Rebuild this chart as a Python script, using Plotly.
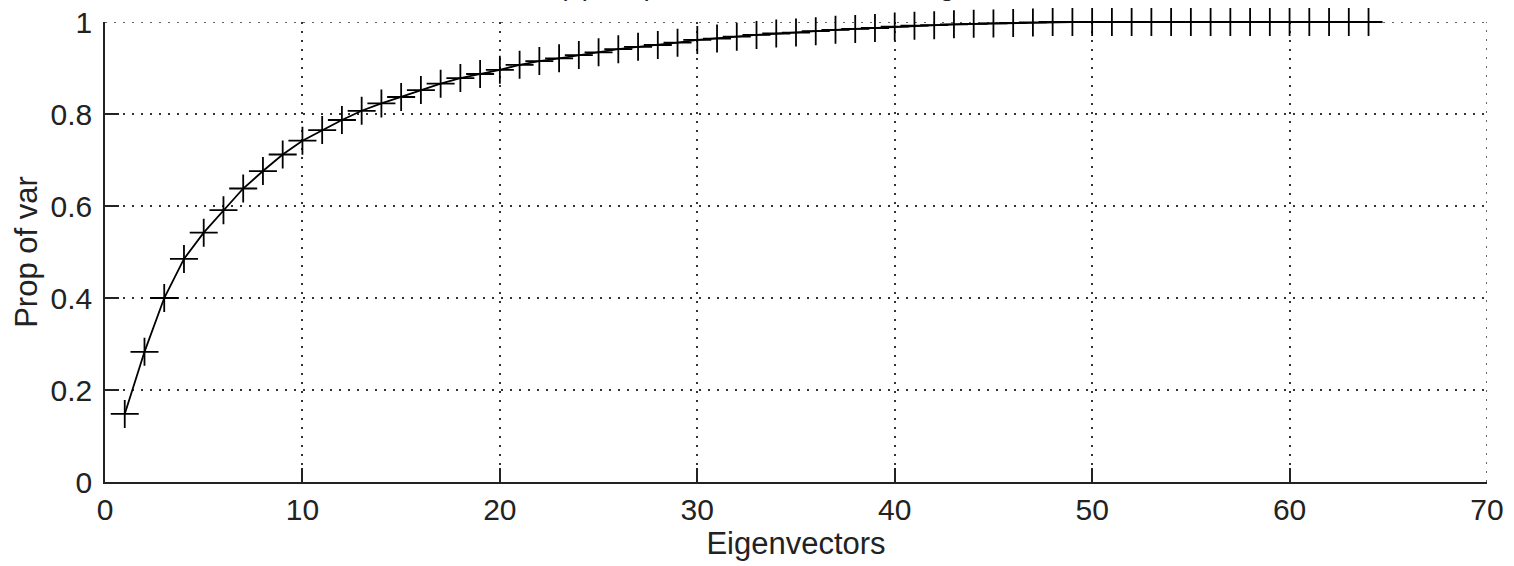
import plotly.graph_objects as go

eigenvectors = list(range(1, 65))
prop_of_var = [
    0.148, 0.283, 0.400, 0.485, 0.542, 0.591, 0.638, 0.676, 0.712, 0.742,
    0.765, 0.787, 0.807, 0.823, 0.837, 0.852, 0.866, 0.878, 0.887, 0.896,
    0.907, 0.915, 0.921, 0.928, 0.934, 0.941, 0.946, 0.950, 0.955, 0.961,
    0.964, 0.968, 0.972, 0.975, 0.977, 0.980, 0.983, 0.985, 0.987, 0.990,
    0.992, 0.993, 0.995, 0.996, 0.997, 0.998, 0.999, 1.000, 1.000, 1.000,
    1.000, 1.000, 1.000, 1.000, 1.000, 1.000, 1.000, 1.000, 1.000, 1.000,
    1.000, 1.000, 1.000, 1.000,
]
x_ticks = [0, 10, 20, 30, 40, 50, 60, 70]
y_ticks = [0, 0.2, 0.4, 0.6, 0.8, 1]
y_tick_labels = ["0", "0.2", "0.4", "0.6", "0.8", "1"]
title_text = "(a) Proportion of variance vs eigenvectors"

FONT = "Liberation Sans, Arial, Helvetica, sans-serif"
TXT = "#222222"
GRID_COLOR = "#333333"
GRID_DASH = "2px,7px"

fig = go.Figure()
fig.add_trace(go.Scatter(
    x=eigenvectors, y=prop_of_var, mode="lines+markers",
    line=dict(color="black", width=1.8),
    marker=dict(symbol="cross-thin", size=20, line=dict(color="black", width=1.8)),
    showlegend=False, cliponaxis=False,
))

grid = dict(showgrid=True, gridcolor=GRID_COLOR, gridwidth=1.5, griddash=GRID_DASH)

fig.update_xaxes(
    range=[x_ticks[0], x_ticks[-1]], tickvals=x_ticks, ticks="inside", ticklen=14, tickwidth=1.5,
    tickcolor="#222222", showline=True, linecolor="#222222", linewidth=1.5,
    zeroline=False, tickfont=dict(family=FONT, size=30, color=TXT),
    title=dict(text="Eigenvectors", font=dict(family=FONT, size=31, color=TXT), standoff=2),
    automargin=False,
    **grid,
)
fig.update_yaxes(
    range=[y_ticks[0], y_ticks[-1]], tickvals=y_ticks, ticktext=y_tick_labels, ticks="inside", ticklen=14,
    tickwidth=1.5, tickcolor="#222222", showline=True, linecolor="#222222", linewidth=1.5,
    zeroline=False, tickfont=dict(family=FONT, size=30, color=TXT), ticklabelstandoff=5,
    title=dict(text="Prop of var", font=dict(family=FONT, size=31, color=TXT), standoff=4),
    automargin=False,
    **grid,
)

# grid lines at the far ends of the axes (top and right), which plotly omits
fig.add_shape(type="line", xref="paper", yref="y", x0=0, x1=1, y0=y_ticks[-1], y1=y_ticks[-1],
              line=dict(color=GRID_COLOR, width=1.5, dash=GRID_DASH), layer="below")
fig.add_shape(type="line", xref="x", yref="paper", x0=x_ticks[-1], x1=x_ticks[-1], y0=0, y1=1,
              line=dict(color=GRID_COLOR, width=1.5, dash=GRID_DASH), layer="below")

fig.update_layout(
    title=dict(text=title_text, x=0.3278, xref="paper", xanchor="left",
               y=1.0, yref="container", yanchor="bottom", pad=dict(b=5),
               font=dict(family=FONT, size=28, color=TXT)),
    width=1514, height=566, autosize=False,
    margin=dict(l=105, r=27, t=22, b=84),
    paper_bgcolor="white", plot_bgcolor="white",
)

fig.write_html("out.html")
